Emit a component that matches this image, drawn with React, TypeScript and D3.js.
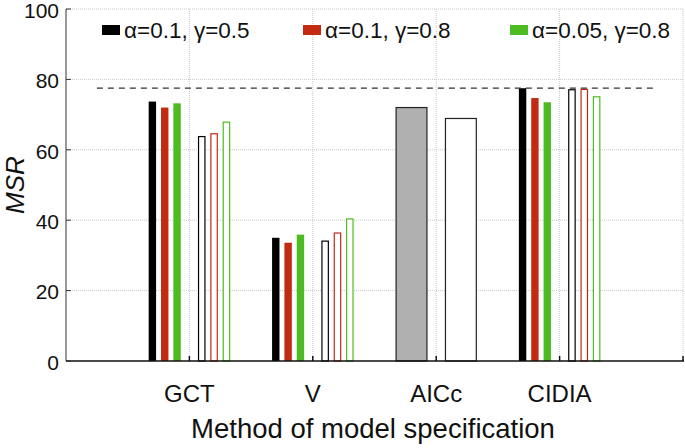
import * as d3 from 'd3';

const categories = ['GCT', 'V', 'AICc', 'CIDIA'];
const seriesNames = ['α=0.1, γ=0.5', 'α=0.1, γ=0.8', 'α=0.05, γ=0.8'];
const seriesColors = ['#000000', '#c22a12', '#4dbb22'];
// filled bars (first set) and open bars (second set), per category; AICc has none
const filledValues = [
  [73.7, 35.0, null, 77.5],
  [72.0, 33.6, null, 74.7],
  [73.2, 35.9, null, 73.5],
];
const openValues = [
  [63.9, 34.2, null, 77.2],
  [64.7, 36.5, null, 77.3],
  [68.0, 40.5, null, 75.2],
];
const aiccValues = [72.0, 68.9];
const referenceLevel = 77.5;
const yTicks = [0, 20, 40, 60, 80, 100];

const W = 685;
const H = 448;
const left = 66;
const right = 683;
const top = 9;
const bottom = 361;

export default function App() {
  const x = d3.scaleLinear().domain([0, 5]).range([left, right]);
  const y = d3.scaleLinear().domain([0, 100]).range([bottom, top]);
  const bw = x(0.06) - x(0);
  const font = 'Liberation Sans, Arial, sans-serif';

  const bars: JSX.Element[] = [];
  filledValues.forEach((vals, s) => {
    vals.forEach((v, i) => {
      if (v == null) return;
      const cx = x(i + 1 + (s - 3) * 0.1);
      bars.push(
        <rect key={`f${s}${i}`} x={cx - bw / 2} y={y(v)} width={bw} height={y(0) - y(v)}
          fill={seriesColors[s]} />
      );
    });
  });
  openValues.forEach((vals, s) => {
    vals.forEach((v, i) => {
      if (v == null) return;
      const cx = x(i + 1 + (s + 1) * 0.1);
      bars.push(
        <rect key={`o${s}${i}`} x={cx - bw / 2 + 0.5} y={y(v) + 0.5} width={bw - 1} height={y(0) - y(v) - 0.5}
          fill="#fff" stroke={seriesColors[s]} strokeWidth={1.2} />
      );
    });
  });
  const aw = x(0.25) - x(0);
  aiccValues.forEach((v, k) => {
    const cx = x(3 + (k === 0 ? -0.2 : 0.2));
    bars.push(
      <rect key={`a${k}`} x={cx - aw / 2} y={y(v)} width={aw} height={y(0) - y(v)}
        fill={k === 0 ? '#b0b0b0' : '#fff'} stroke="#222" strokeWidth={1.2} />
    );
  });

  const gridX = [1, 2, 3, 4, 5];

  return (
    <svg width={W} height={H} style={{ position: 'absolute', left: 0, top: 0, background: '#fff' }}
      fontFamily={font}>
      {yTicks.filter((t) => t > 0).map((t) => (
        <line key={`gy${t}`} x1={left} x2={right} y1={y(t)} y2={y(t)}
          stroke="#c8c8c8" strokeDasharray="1,1" />
      ))}
      {gridX.map((g) => (
        <line key={`gx${g}`} x1={x(g)} x2={x(g)} y1={top} y2={bottom}
          stroke="#c8c8c8" strokeDasharray="1,1" />
      ))}
      {bars}
      <line x1={x(0.25)} x2={x(4.77)} y1={y(referenceLevel)} y2={y(referenceLevel)}
        stroke="#333" strokeWidth={1.2} strokeDasharray="6,5" />
      {/* axes */}
      <line x1={left} x2={left} y1={top} y2={bottom} stroke="#555" strokeWidth={1.2} />
      <line x1={left} x2={right + 1} y1={bottom} y2={bottom} stroke="#111" strokeWidth={1.5} />
      {yTicks.map((t) => (
        <g key={`yt${t}`}>
          <line x1={left} x2={left + 5} y1={y(t)} y2={y(t)} stroke="#333" />
          <text x={left - 7} y={y(t)} dy="0.42em" textAnchor="end" fontSize={21} fill="#111">{t}</text>
        </g>
      ))}
      {gridX.map((g) => (
        <line key={`xt${g}`} x1={x(g)} x2={x(g)} y1={bottom} y2={bottom - 5} stroke="#111" strokeWidth={1.5} />
      ))}
      {categories.map((c, i) => (
        <text key={c} x={x(i + 1)} y={402} textAnchor="middle" fontSize={24} fill="#111">{c}</text>
      ))}
      <text x={373} y={438} textAnchor="middle" fontSize={27.5} fill="#111">
        Method of model specification
      </text>
      <text transform={`translate(24,${(top + bottom) / 2}) rotate(-90)`} textAnchor="middle"
        fontSize={26} fontStyle="italic" fill="#111">MSR</text>
      {/* legend */}
      {seriesNames.map((n, s) => {
        const lx = [102, 303, 510][s];
        return (
          <g key={n}>
            <rect x={lx} y={25} width={18} height={10} fill={seriesColors[s]} />
            <text x={lx + 22} y={30} dy="0.36em" fontSize={22.5} fill="#111">{n}</text>
          </g>
        );
      })}
    </svg>
  );
}
